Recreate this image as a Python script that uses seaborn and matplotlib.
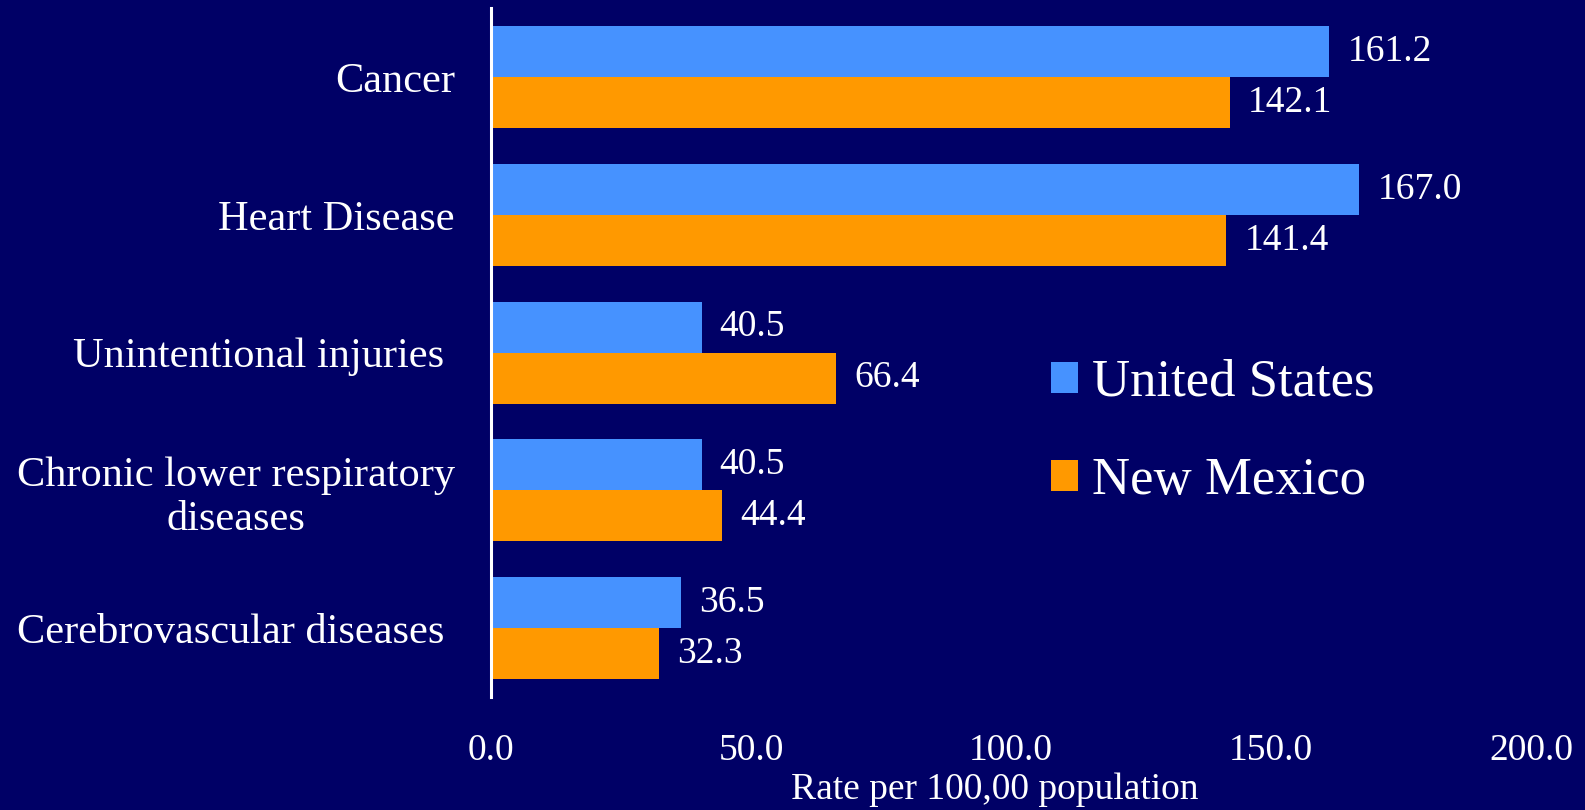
import pandas as pd
import seaborn as sns
import matplotlib.pyplot as plt

# data
causes = ["Cancer", "Heart Disease", "Unintentional injuries ",
          "Chronic lower respiratory\ndiseases", "Cerebrovascular diseases "]
us_rates = [161.2, 167.0, 40.5, 40.5, 36.5]
nm_rates = [142.1, 141.4, 66.4, 44.4, 32.3]
regions = ["United States", "New Mexico"]
x_ticks = [0, 50, 100, 150, 200]
x_tick_labels = ["0.0", "50.0", "100.0", "150.0", "200.0"]

df = pd.DataFrame({
    "cause": causes * 2,
    "rate": us_rates + nm_rates,
    "region": [regions[0]] * len(causes) + [regions[1]] * len(causes),
})

bg = "#000066"
colours = {"United States": "#4692FF", "New Mexico": "#FF9900"}

sns.set_style("white")
plt.rcParams["font.family"] = ["Liberation Serif", "DejaVu Serif"]

fig = plt.figure(figsize=(15.85, 8.1), dpi=100, facecolor=bg)
ax = fig.add_axes([0.3098, 0.1395, 0.6562, 0.8505])
ax.set_facecolor(bg)

sns.barplot(data=df, y="cause", x="rate", hue="region", palette=colours,
            orient="h", width=0.74, linewidth=0, saturation=1, ax=ax)

for cont in ax.containers:
    ax.bar_label(cont, fmt="%.1f", padding=13, color="white", fontsize=27)

ax.set_xlim(0, 200)
ax.set_xticks(x_ticks)
ax.set_xticklabels(x_tick_labels)
ax.tick_params(axis="x", length=0, pad=26, labelsize=27, labelcolor="white")
ax.tick_params(axis="y", length=0, pad=26, labelsize=30.5, labelcolor="white")
for lbl in ax.get_yticklabels():
    lbl.set_multialignment("center")

ax.set_ylabel("")
ax.set_xlabel("Rate per 100,00 population", color="white", fontsize=27)
ax.xaxis.set_label_coords(0.484, -0.11)

for side in ["top", "right", "bottom"]:
    ax.spines[side].set_visible(False)
ax.spines["left"].set_color("white")
ax.spines["left"].set_linewidth(2.2)

handles, labels = ax.get_legend_handles_labels()
ax.legend(handles, labels, loc="center left", bbox_to_anchor=(1051 / 1585, 1 - 432 / 810),
          bbox_transform=fig.transFigure, frameon=False, fontsize=38,
          labelcolor="white", handlelength=0.52, handleheight=0.52,
          handletextpad=0.25, labelspacing=0.95, borderpad=0, borderaxespad=0)

plt.savefig("out.png", dpi=100, facecolor=bg)
